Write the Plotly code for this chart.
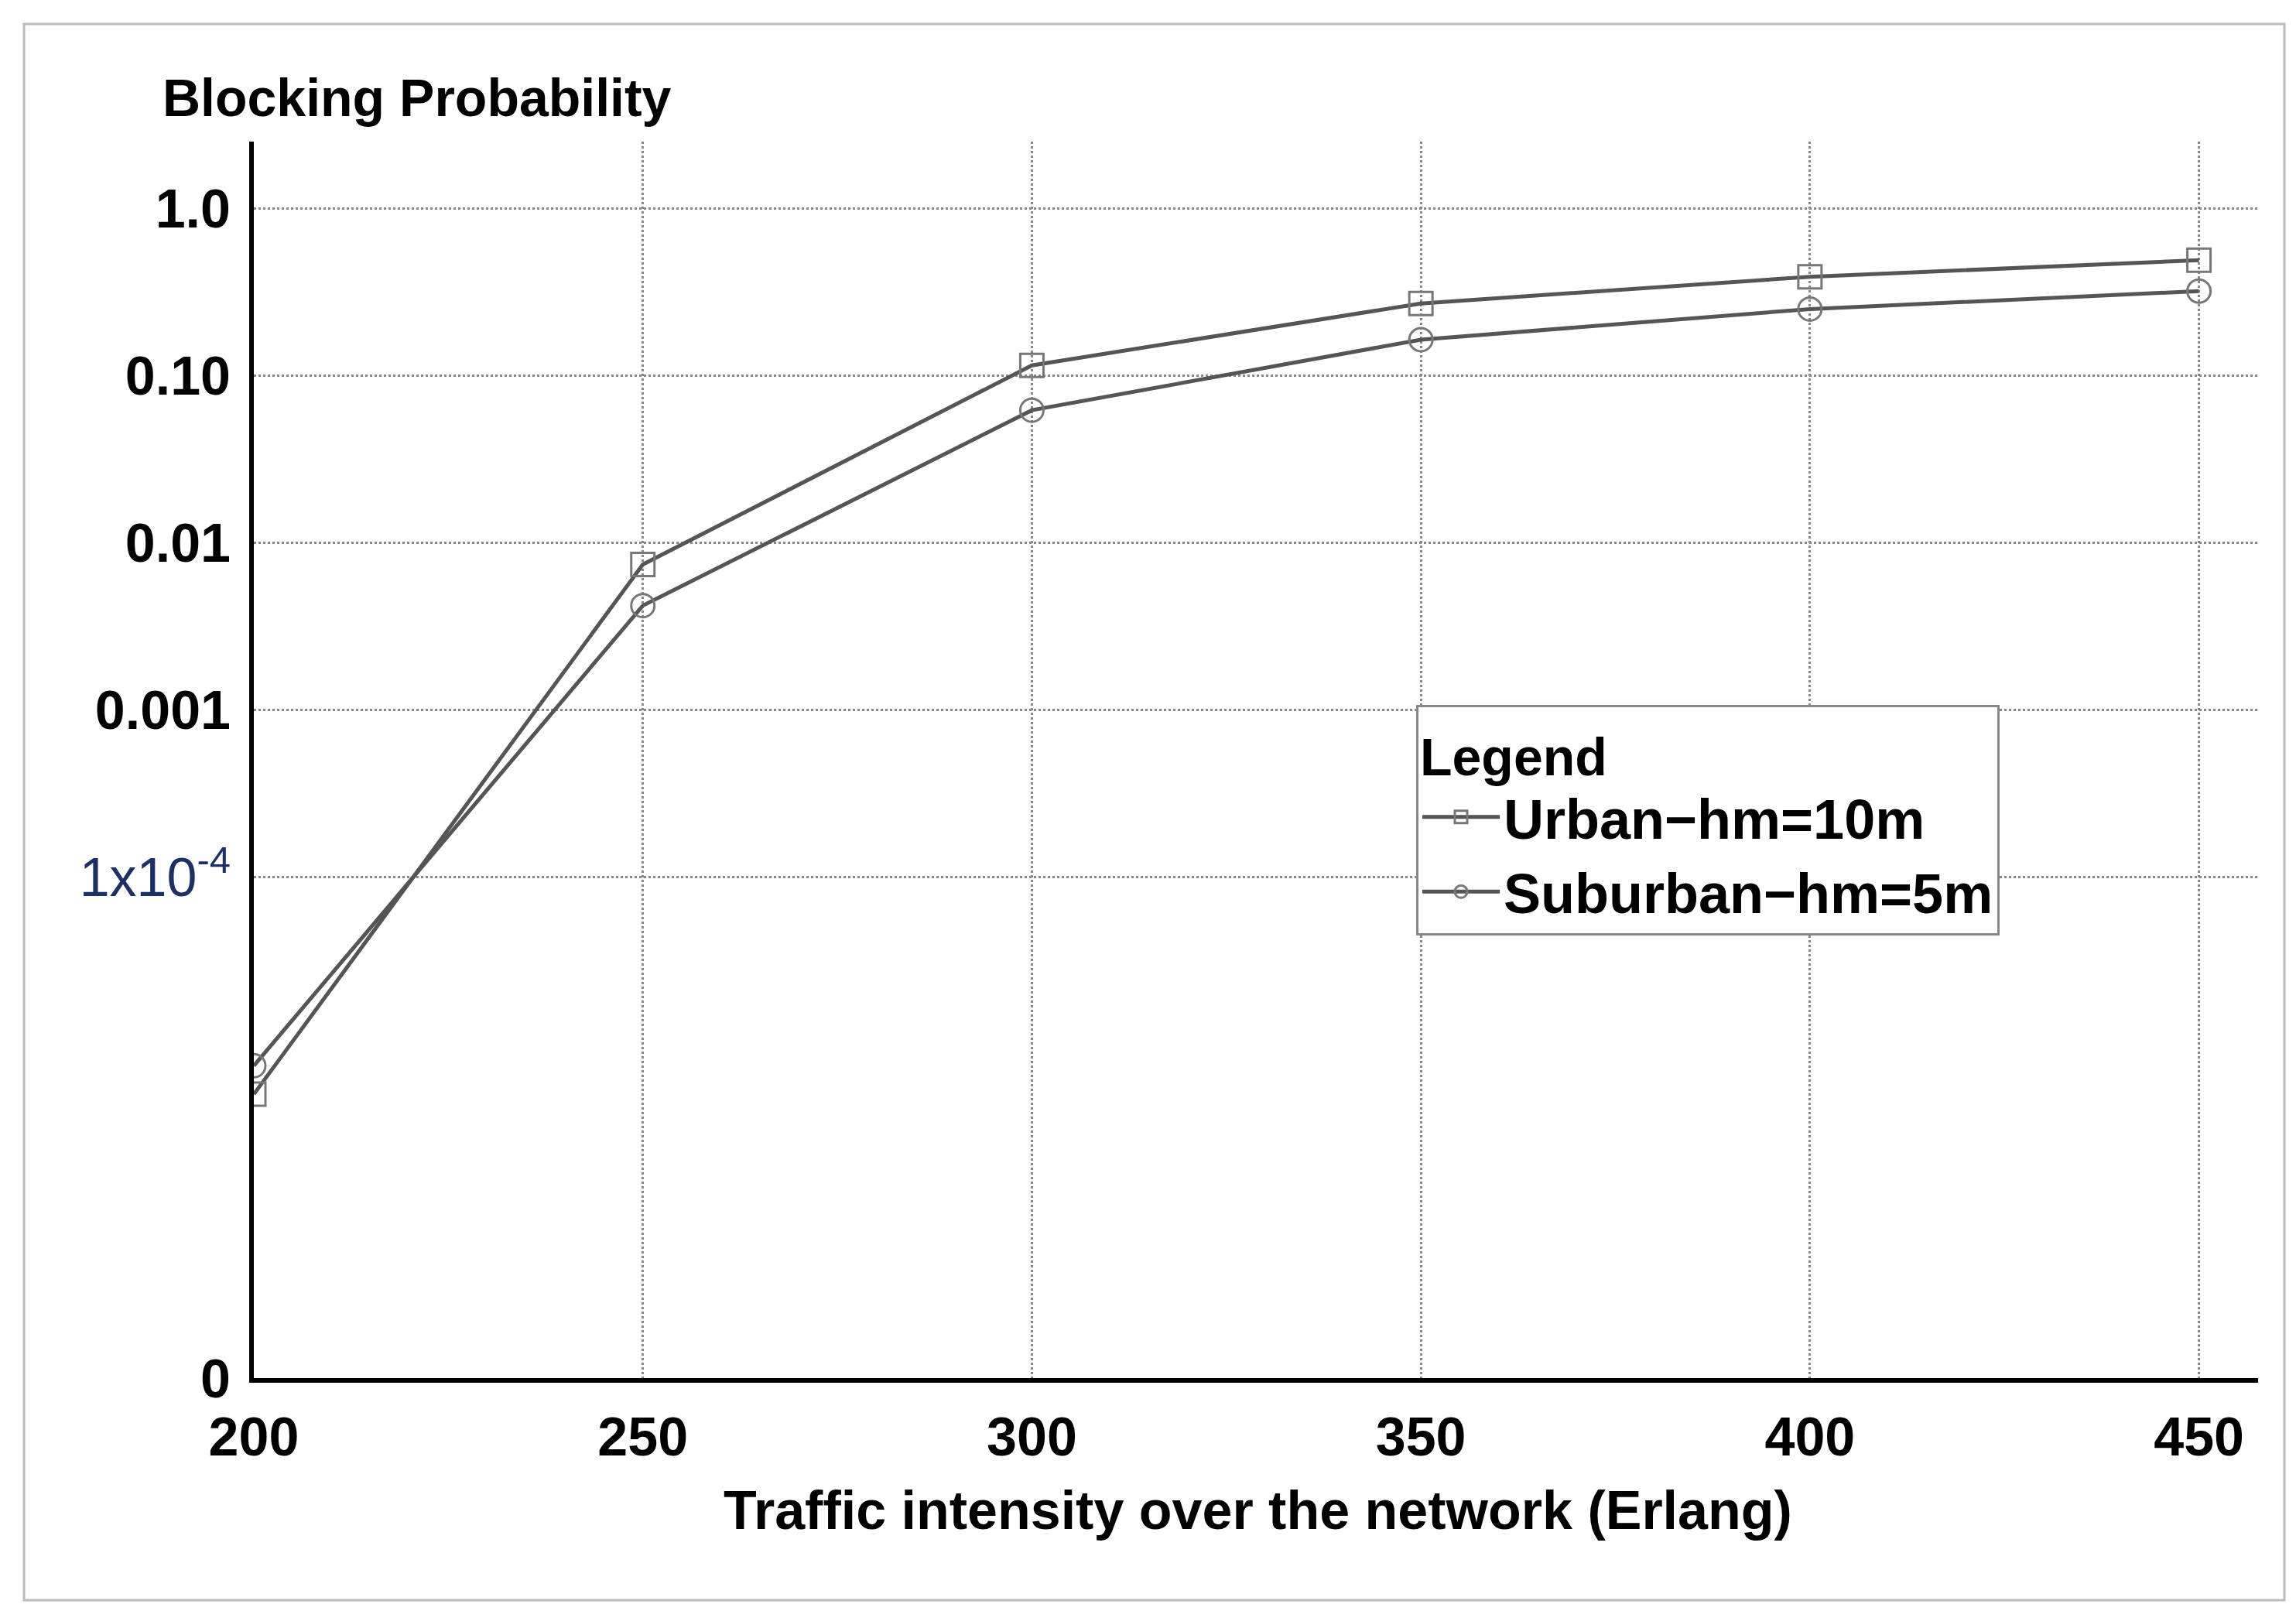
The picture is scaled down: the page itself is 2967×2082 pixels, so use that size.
import plotly.graph_objects as go

# Traffic intensity (Erlang)
traffic = [200, 250, 300, 350, 400, 450]

# Blocking probability
urban_hm10 = [5.0e-6, 0.0074, 0.115, 0.27, 0.39, 0.49]
suburban_hm5 = [7.4e-6, 0.0042, 0.062, 0.164, 0.25, 0.32]

y_tick_vals = [1e-7, 1e-4, 1e-3, 1e-2, 1e-1, 1.0]
y_tick_text = ["<b>0</b>", "<span style='color:#1c2f66'>1x10<sup>-4</sup></span>",
               "<b>0.001</b>", "<b>0.01</b>", "<b>0.10</b>", "<b>1.0</b>"]
x_tick_vals = [200, 250, 300, 350, 400, 450]
x_tick_text = ["<b>%d</b>" % v for v in x_tick_vals]

W, H = 2967, 2082
ml, mr, mt, mb = 320, 57, 175, 309
pw, ph = W - ml - mr, H - mt - mb


def px(x):
    return (x - ml) / pw


def py(y):
    return (H - mb - y) / ph


font = "Liberation Sans, Arial, sans-serif"
line_col = "#555555"

fig = go.Figure()
fig.add_trace(go.Scatter(
    x=traffic, y=urban_hm10, mode="lines+markers", name="<b>Urban\u2212hm=10m</b>",
    line=dict(color=line_col, width=5),
    marker=dict(symbol="square-open", size=30, color="#777777", line=dict(width=3)),
))
fig.add_trace(go.Scatter(
    x=traffic, y=suburban_hm5, mode="lines+markers", name="<b>Suburban\u2212hm=5m</b>",
    line=dict(color=line_col, width=5),
    marker=dict(symbol="circle-open", size=30, color="#777777", line=dict(width=3)),
))

fig.update_layout(
    width=W, height=H,
    margin=dict(l=ml, r=mr, t=mt, b=mb),
    paper_bgcolor="white", plot_bgcolor="white",
    font=dict(family=font, color="black"),
    showlegend=True,
    legend=dict(
        x=px(1822), y=py(903), xanchor="left", yanchor="top",
        bordercolor="#888888", borderwidth=3, bgcolor="white",
        title=dict(text="<b>Legend</b>", side="top", font=dict(size=68)),
        font=dict(size=72), itemwidth=100,
    ),
    xaxis=dict(
        range=[200, 457.6], tickvals=x_tick_vals, ticktext=x_tick_text,
        tickfont=dict(size=70, family=font), ticklabelstandoff=10,
        showline=True, linecolor="black", linewidth=6,
        showgrid=True, gridcolor="#888888", griddash="dot", gridwidth=3,
        zeroline=False, ticks="",
    ),
    yaxis=dict(
        type="log", range=[-7, 0.4], tickvals=y_tick_vals, ticktext=y_tick_text,
        tickfont=dict(size=70, family=font), ticklabelstandoff=10,
        showline=True, linecolor="black", linewidth=6,
        showgrid=True, gridcolor="#888888", griddash="dot", gridwidth=3,
        zeroline=False, ticks="",
    ),
)

fig.add_annotation(
    text="<b>Blocking Probability</b>", xref="paper", yref="paper",
    x=px(200), y=py(118), xanchor="left", yanchor="middle",
    showarrow=False, font=dict(size=68),
)
fig.add_annotation(
    text="<b>Traffic intensity over the network (Erlang)</b>", xref="paper", yref="paper",
    x=px(1617), y=py(1944), xanchor="center", yanchor="middle",
    showarrow=False, font=dict(size=70),
)
fig.add_shape(
    type="rect", xref="paper", yref="paper",
    x0=px(23), x1=px(2944), y0=py(23), y1=py(2060),
    line=dict(color="#bbbbbb", width=3),
)

fig.write_html("out.html")
